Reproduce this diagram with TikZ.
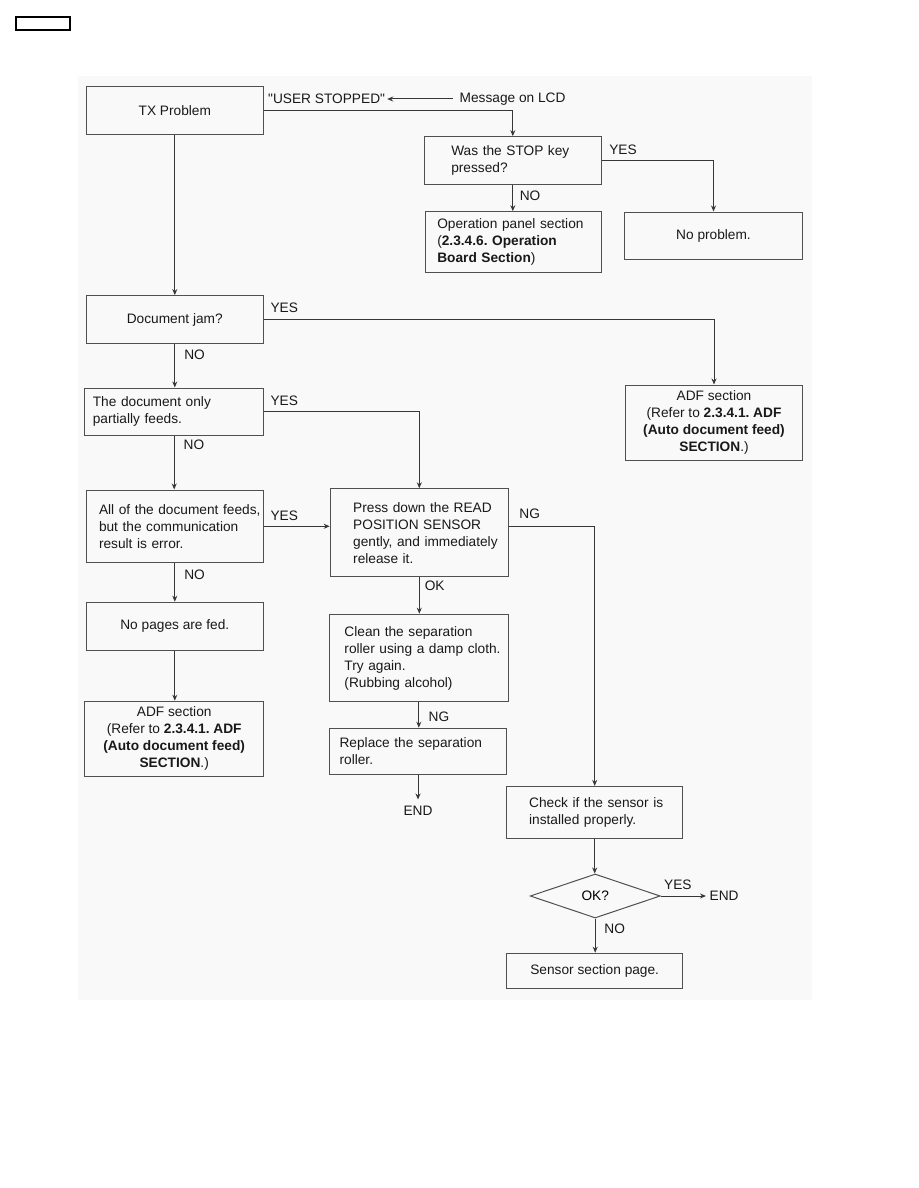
\documentclass[tikz,border=0pt]{standalone}
\usepackage{fontspec}
\setmainfont{Liberation Sans}
\newfontfamily\quotefont{Liberation Sans}
\usepackage{tikz}
\usetikzlibrary{shapes,arrows,arrows.meta,positioning}
\definecolor{boxline}{RGB}{80,80,80}
\definecolor{flowline}{RGB}{55,55,55}
\definecolor{pagegray}{RGB}{249,249,249}
\newcommand{\flowfont}{\fontsize{13.7}{17}\selectfont}
\frenchspacing

\begin{document}
\begin{tikzpicture}[x=1pt, y=-1pt, >={Stealth[length=6pt,width=5pt]},
    box/.style={draw=boxline, line width=1pt, rectangle, inner sep=0pt, align=center, font=\flowfont, text=black!90},
    lbox/.style 2 args={box, align=left, text width=#1, execute at begin node={\leftskip=#2}},
    lbl/.style={font=\flowfont, inner sep=0pt, text=black!90},
    flow/.style={draw=flowline, line width=1pt, ->}]
        % Page
        \useasboundingbox (0,0) rectangle (918,1188);
        \fill[white] (0,0) rectangle (918,1188);
        \fill[pagegray] (78,76) rectangle (812,1000);
        \draw[line width=1.2pt] (16,17) rectangle (70,30);

        % Top branch
        \node[box, minimum width=177pt, minimum height=48pt] (tx) at (174.8,111) {TX Problem};
        \node[lbl, anchor=west, font=\quotefont\flowfont] (userstop) at (268,99) {"USER STOPPED"};
        \node[lbl, anchor=west] (lcdmsg) at (459.5,99) {Message on LCD};
        \node[lbox={177pt}{27pt}, minimum height=47.4pt] (stop) at (512.8,160.4) {Was the STOP key\\pressed?};
        \node[lbox={176pt}{11.6pt}, minimum height=60.6pt] (oppanel) at (513.7,242) {Operation panel section\\(\textbf{2.3.4.6. Operation}\\\textbf{Board Section})};
        \node[box, minimum width=177.6pt, minimum height=47.6pt] (noprob) at (713.5,235.8) {No problem.};

        % Left column
        \node[box, minimum width=177.6pt, minimum height=48pt] (jam) at (174.8,319.6) {Document jam?};
        \node[box, minimum width=176.5pt, minimum height=75.6pt] (adfright) at (714,422.8) {ADF section\\(Refer to \textbf{2.3.4.1. ADF}\\\textbf{(Auto document feed)}\\\textbf{SECTION}.)};
        \node[lbox={178.7pt}{8pt}, minimum height=47.4pt] (partial) at (174.2,411.7) {The document only\\partially feeds.};
        \node[lbox={177.6pt}{13pt}, minimum height=72.6pt] (allof) at (174.8,526.3) {All of the document feeds,\\but the communication\\result is error.};
        \node[box, minimum width=177.6pt, minimum height=48pt] (nopages) at (174.8,626.2) {No pages are fed.};
        \node[box, minimum width=178.7pt, minimum height=75pt] (adfleft) at (174.2,738.7) {ADF section\\(Refer to \textbf{2.3.4.1. ADF}\\\textbf{(Auto document feed)}\\\textbf{SECTION}.)};

        % Middle column
        \node[lbox={178.2pt}{23pt}, minimum height=87.6pt] (press) at (419.3,532.6) {Press down the READ\\POSITION SENSOR\\gently, and immediately\\release it.};
        \node[lbox={179.3pt}{15.3pt}, minimum height=87.6pt] (clean) at (418.8,658) {Clean the separation\\roller using a damp cloth.\\Try again.\\(Rubbing alcohol)};
        \node[lbox={177.6pt}{10.4pt}, minimum height=46.2pt] (replace) at (418,751.3) {Replace the separation\\roller.};
        \node[lbl] (endleft) at (418,810.4) {END};

        % Right column
        \node[lbox={175.9pt}{22.4pt}, minimum height=52.2pt] (check) at (594.7,812.5) {Check if the sensor is\\installed properly.};
        \node[draw=boxline, line width=1pt, diamond, minimum width=130pt, minimum height=44pt, inner sep=0pt, font=\flowfont] (okq) at (595.2,896) {OK?};
        \node[lbl, anchor=west] (endright) at (709.5,896) {END};
        \node[box, minimum width=175.9pt, minimum height=34.8pt] (sensor) at (594.7,970.6) {Sensor section page.};

        % Connectors
        \draw[flow, shorten <=7pt, shorten >=2pt] (lcdmsg.west) -- (userstop.east);
        \draw[flow] (tx.east) -| (stop.north);
        \draw[flow] (stop.east) -| (noprob.north) node[lbl, pos=0, anchor=south west, xshift=7pt, yshift=5pt] (stopyes) {YES};
        \draw[flow] (stop.south) -- (stop.south |- oppanel.north) node[lbl, pos=0, anchor=north west, xshift=6.5pt, yshift=-6pt] (stopno) {NO};
        \draw[flow] (tx.south) -- (tx.south |- jam.north);
        \draw[flow] (jam.east) -| (adfright.north) node[lbl, pos=0, anchor=south west, xshift=6pt, yshift=6.5pt] (jamyes) {YES};
        \draw[flow] (jam.south) -- (jam.south |- partial.north) node[lbl, pos=0, anchor=north west, xshift=9pt, yshift=-5pt] (jamno) {NO};
        \draw[flow] (partial.east) -| (press.north) node[lbl, pos=0, anchor=south west, xshift=6pt, yshift=5.3pt] (partyes) {YES};
        \draw[flow] (partial.south) -- (partial.south |- allof.north) node[lbl, pos=0, anchor=north west, xshift=9pt, yshift=-4pt] (partno) {NO};
        \draw[flow] (allof.east) -- (allof.east -| press.west) node[lbl, pos=0, anchor=south west, xshift=6pt, yshift=5.3pt] (allyes) {YES};
        \draw[flow] (allof.south) -- (allof.south |- nopages.north) node[lbl, pos=0, anchor=north west, xshift=9pt, yshift=-6pt] (allno) {NO};
        \draw[flow] (nopages.south) -- (nopages.south |- adfleft.north);
        \draw[flow] (press.east |- allof.east) -| (check.north) node[lbl, pos=0, anchor=south west, xshift=10pt, yshift=7pt] (pressng) {NG};
        \draw[flow] (press.south) -- (press.south |- clean.north) node[lbl, pos=0, anchor=north west, xshift=5pt, yshift=-3.5pt] (pressok) {OK};
        \draw[flow] (clean.south) -- (clean.south |- replace.north) node[lbl, pos=0, anchor=north west, xshift=9.4pt, yshift=-9pt] (cleanng) {NG};
        \draw[flow, shorten >=6pt] (replace.south) -- (endleft.north);
        \draw[flow] (check.south) -- (check.south |- okq.north);
        \draw[flow, shorten >=3.5pt] (okq.east) -- (endright.west) node[lbl, pos=0, anchor=south west, xshift=3pt, yshift=6pt] (okyes) {YES};
        \draw[flow] (okq.south) -- (okq.south |- sensor.north) node[lbl, pos=0, anchor=north west, xshift=8.7pt, yshift=-5pt] (okno) {NO};
    \end{tikzpicture}
\end{document}
